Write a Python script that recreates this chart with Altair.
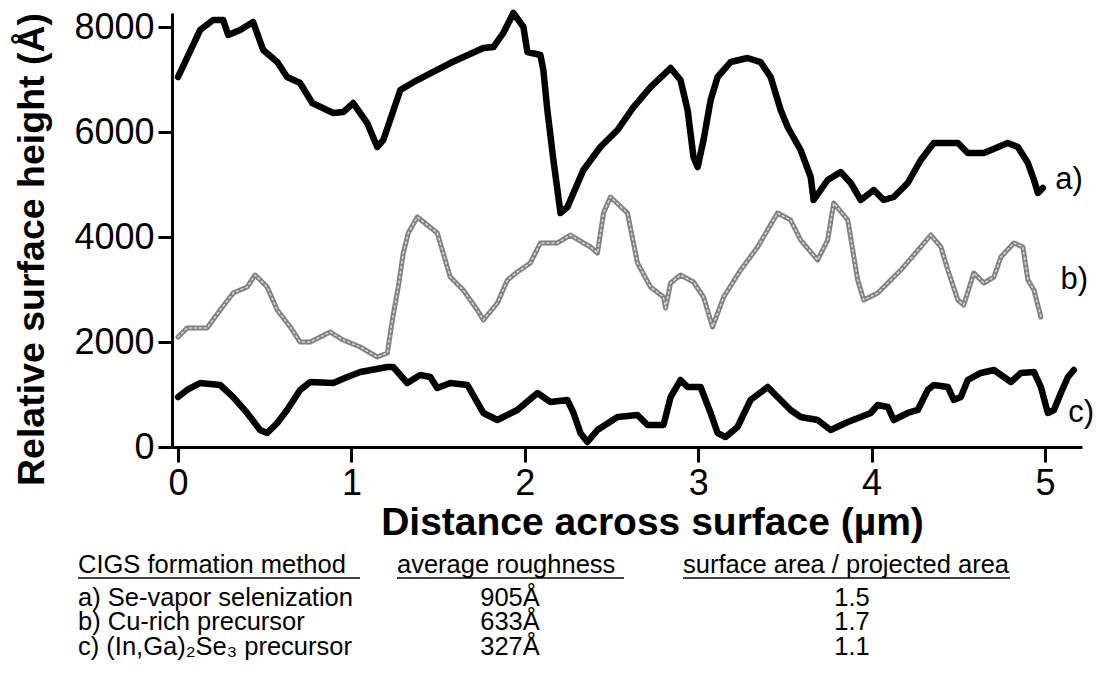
import altair as alt
import pandas as pd

# ---- data ----
a_x = [0.0, 0.127, 0.202, 0.26, 0.289, 0.358, 0.433, 0.491, 0.572, 0.629, 0.704, 0.774, 0.895, 0.953,
       1.010, 1.091, 1.149, 1.184, 1.282, 1.380, 1.570, 1.761, 1.819, 1.876, 1.934, 1.992, 2.015, 2.090,
       2.107, 2.130, 2.165, 2.206, 2.246, 2.338, 2.436, 2.535, 2.627, 2.725, 2.841, 2.898, 2.939, 2.973,
       2.997, 3.031, 3.072, 3.112, 3.187, 3.285, 3.360, 3.418, 3.476, 3.516, 3.591, 3.649, 3.666, 3.747,
       3.822, 3.880, 3.938, 4.013, 4.070, 4.128, 4.209, 4.284, 4.359, 4.498, 4.555, 4.648, 4.786, 4.844,
       4.902, 4.937, 4.960, 4.988]
a_y = [7048, 7943, 8133, 8133, 7848, 7943, 8095, 7562, 7333, 7048, 6933, 6552, 6362, 6381,
       6552, 6171, 5714, 5848, 6800, 6990, 7314, 7600, 7619, 7886, 8267, 8000, 7524, 7467,
       7181, 6419, 5467, 4457, 4571, 5276, 5714, 6038, 6476, 6857, 7219, 6990, 6419, 5524,
       5333, 5848, 6610, 7048, 7333, 7410, 7333, 7048, 6419, 6095, 5657, 5143, 4705, 5086,
       5238, 5029, 4705, 4895, 4705, 4762, 5029, 5467, 5790, 5790, 5600, 5600, 5790, 5714,
       5410, 5086, 4838, 4933]

b_x = [0.0, 0.052, 0.167, 0.243, 0.318, 0.398, 0.445, 0.514, 0.572, 0.647, 0.704, 0.762, 0.878, 0.953,
       1.051, 1.149, 1.207, 1.236, 1.270, 1.299, 1.328, 1.380, 1.495, 1.570, 1.645, 1.726, 1.761, 1.842,
       1.900, 1.957, 2.032, 2.090, 2.188, 2.263, 2.338, 2.379, 2.419, 2.454, 2.494, 2.592, 2.650, 2.725,
       2.800, 2.812, 2.841, 2.898, 2.973, 3.031, 3.083, 3.147, 3.245, 3.343, 3.458, 3.533, 3.591, 3.689,
       3.747, 3.782, 3.863, 3.920, 3.955, 4.036, 4.169, 4.284, 4.342, 4.400, 4.440, 4.498, 4.532, 4.590,
       4.648, 4.706, 4.746, 4.821, 4.873, 4.902, 4.937, 4.977]
b_y = [2095, 2267, 2267, 2610, 2933, 3048, 3276, 3048, 2610, 2286, 2000, 2000, 2190, 2038,
       1905, 1714, 1790, 2419, 3048, 3695, 4076, 4381, 4076, 3238, 2990, 2610, 2419, 2743,
       3181, 3333, 3505, 3886, 3886, 4038, 3886, 3810, 3695, 4457, 4762, 4457, 3505, 3048,
       2857, 2648, 3124, 3276, 3143, 2857, 2286, 2857, 3371, 3810, 4457, 4324, 3943, 3562,
       3943, 4648, 4324, 3181, 2800, 2933, 3371, 3810, 4038, 3810, 3371, 2800, 2705, 3314,
       3124, 3238, 3619, 3886, 3810, 3181, 2990, 2476]

c_x = [0.0, 0.052, 0.127, 0.243, 0.318, 0.398, 0.473, 0.514, 0.572, 0.629, 0.704, 0.762, 0.895, 0.976,
       1.051, 1.207, 1.241, 1.322, 1.397, 1.455, 1.495, 1.570, 1.669, 1.761, 1.842, 1.957, 2.073, 2.148,
       2.246, 2.281, 2.321, 2.361, 2.419, 2.535, 2.650, 2.708, 2.800, 2.841, 2.898, 2.939, 3.014, 3.072,
       3.112, 3.158, 3.227, 3.302, 3.401, 3.458, 3.533, 3.591, 3.689, 3.764, 3.863, 3.938, 3.995, 4.036,
       4.094, 4.128, 4.209, 4.267, 4.324, 4.359, 4.440, 4.475, 4.515, 4.555, 4.630, 4.706, 4.763, 4.804,
       4.861, 4.937, 4.977, 5.017, 5.052, 5.092, 5.133, 5.167]
c_y = [952, 1086, 1219, 1181, 952, 648, 324, 267, 457, 705, 1086, 1238, 1219, 1333,
       1429, 1524, 1524, 1219, 1371, 1333, 1124, 1219, 1181, 648, 514, 705, 1029, 857,
       895, 648, 267, 95, 324, 571, 610, 419, 419, 952, 1276, 1143, 1143, 648,
       267, 190, 381, 895, 1143, 952, 705, 571, 514, 324, 476, 571, 648, 800,
       762, 514, 648, 705, 1086, 1181, 1143, 895, 952, 1276, 1410, 1467, 1333, 1238,
       1410, 1429, 1143, 648, 705, 1029, 1333, 1467]

series_labels = ["a)", "b)", "c)"]
label_x = [5.06, 5.09, 5.135]
label_y = [5086, 3181, 648]

x_ticks = [0, 1, 2, 3, 4, 5]
y_ticks = [0, 2000, 4000, 6000, 8000]

headers = ["CIGS formation method", "average roughness", "surface area / projected area"]
methods = ["a) Se-vapor selenization", "b) Cu-rich precursor", "c) (In,Ga)\u2082Se\u2083 precursor"]
roughness = ["905Å", "633Å", "327Å"]
area_ratio = ["1.5", "1.7", "1.1"]

# ---- chart ----
FONT = "Liberation Sans"
W, H = 910, 434
LEFT, TOP = 172, 13

xs = alt.Scale(domain=[-0.035, 5.214], nice=False, zero=False)
ys = alt.Scale(domain=[0, 8267], nice=False, zero=False)

x_axis = alt.Axis(values=x_ticks, format="d", title="Distance across surface (µm)",
                  grid=False, domainColor="black", domainWidth=3, tickColor="black",
                  tickWidth=3, tickSize=15, labelFont=FONT, labelFontSize=36,
                  labelColor="black", labelPadding=4, labelFlush=False,
                  titleFont=FONT, titleFontSize=39, titleFontWeight="bold", titleColor="black",
                  titleX=480, titleY=87, titleAlign="center", titleBaseline="alphabetic",
                  titleAnchor="start")
y_axis = alt.Axis(values=y_ticks, format="d", title="Relative surface height (Å)",
                  grid=False, domainColor="black", domainWidth=3, tickColor="black",
                  tickWidth=3, tickSize=14, labelFont=FONT, labelFontSize=36,
                  labelColor="black", labelPadding=4, labelFlush=False,
                  titleFont=FONT, titleFontSize=37.5, titleFontWeight="bold", titleColor="black",
                  titleX=-140, titleY=236, titleAngle=-90, titleAlign="center",
                  titleBaseline="middle", titleAnchor="start")


def line_df(xv, yv):
    return pd.DataFrame({"x": xv, "y": yv, "i": list(range(len(xv)))})


def line_layer(df, color, width, **kw):
    return alt.Chart(df).mark_line(color=color, strokeWidth=width, strokeJoin="round",
                                   strokeCap="round", clip=False, **kw).encode(
        x=alt.X("x:Q", scale=xs, axis=x_axis),
        y=alt.Y("y:Q", scale=ys, axis=y_axis),
        order="i:Q",
    )


da, db, dc = line_df(a_x, a_y), line_df(b_x, b_y), line_df(c_x, c_y)

layers = [
    line_layer(db, "#808080", 5),
    line_layer(db, "#d8d8d8", 1.5, strokeDash=[2, 3]),
    line_layer(da, "black", 6.5),
    line_layer(dc, "black", 6.5),
]

lab_df = pd.DataFrame({"x": label_x, "y": label_y, "t": series_labels})
layers.append(
    alt.Chart(lab_df).mark_text(align="left", baseline="middle", font=FONT, fontSize=31,
                                color="black").encode(
        x=alt.X("x:Q", scale=xs, axis=x_axis),
        y=alt.Y("y:Q", scale=ys, axis=y_axis),
        text="t:N")
)


def cell(txt, px, py, align):
    return alt.Chart(pd.DataFrame({"t": [txt]})).mark_text(
        align=align, baseline="middle", font=FONT, fontSize=25.5, color="black"
    ).encode(x=alt.value(px - LEFT), y=alt.value(py - TOP), text="t:N")


def rule(x1, x2, py):
    return alt.Chart(pd.DataFrame({"k": [0]})).mark_rule(color="black", strokeWidth=1.5).encode(
        x=alt.value(x1 - LEFT), x2=alt.value(x2 - LEFT), y=alt.value(py - TOP))


hdr_y = 565
row_y = [598, 622, 647]
col_left = [78, 397, 683]
col_center = [None, 510, 852]
ul_end = [360, 624, 1010]

for j, h in enumerate(headers):
    layers.append(cell(h, col_left[j], hdr_y, "left"))
    layers.append(rule(col_left[j], ul_end[j], hdr_y + 13))
for i in range(3):
    layers.append(cell(methods[i], col_left[0], row_y[i], "left"))
    layers.append(cell(roughness[i], col_center[1], row_y[i], "center"))
    layers.append(cell(area_ratio[i], col_center[2], row_y[i], "center"))

chart = alt.layer(*layers).properties(
    width=W, height=H,
    autosize=alt.AutoSizeParams(type="none"),
    padding={"left": LEFT, "top": TOP, "right": 1096 - LEFT - W, "bottom": 673 - TOP - H},
    background="white",
).configure_view(stroke=None)

chart.save("out.html", embed_options={"renderer": "svg", "actions": False})
